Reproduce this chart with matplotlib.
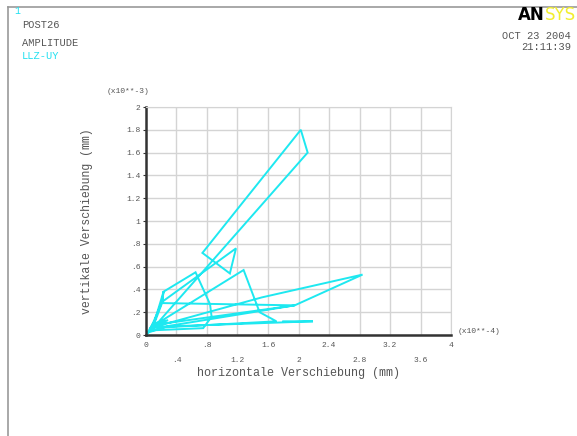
import matplotlib
matplotlib.use("Agg")
import matplotlib.pyplot as plt
from matplotlib.lines import Line2D

# displacement path (x in 1e-4 mm, y in 1e-3 mm)
ux = [0.00, 0.09, 0.23, 0.21, 0.23, 0.65, 0.84, 0.86, 0.75, 0.05, 0.21, 1.18, 1.10,
      0.74, 2.03, 2.12, 0.08, 0.21, 1.95, 0.12, 1.28, 1.49, 1.71, 0.05, 1.52, 2.84,
      1.95, 0.30, 0.02, 0.09, 0.29, 0.06, 2.19, 1.80]
uy = [0.00, 0.07, 0.38, 0.29, 0.38, 0.55, 0.27, 0.16, 0.06, 0.04, 0.29, 0.76, 0.54,
      0.72, 1.80, 1.60, 0.05, 0.28, 0.26, 0.09, 0.57, 0.20, 0.12, 0.06, 0.33, 0.53,
      0.26, 0.08, 0.02, 0.10, 0.13, 0.07, 0.12, 0.12]

xticks = [0, 0.4, 0.8, 1.2, 1.6, 2.0, 2.4, 2.8, 3.2, 3.6, 4.0]
xlabels = ["0", ".4", ".8", "1.2", "1.6", "2", "2.4", "2.8", "3.2", "3.6", "4"]
yticks = [0, 0.2, 0.4, 0.6, 0.8, 1.0, 1.2, 1.4, 1.6, 1.8, 2.0]
ylabels = ["0", ".2", ".4", ".6", ".8", "1", "1.2", "1.4", "1.6", "1.8", "2"]

mono = "Liberation Mono"
txt = "#555555"
grid = "#d4d4d4"

fig = plt.figure(figsize=(5.77, 4.36), dpi=100)
ax = fig.add_axes([146 / 577, 1 - 335 / 436, 305 / 577, 228 / 436])

ax.plot(ux, uy, color="#1ee8f0", lw=1.4, solid_joinstyle="miter")

ax.set_xlim(0, 4)
ax.set_ylim(0, 2)
ax.set_xticks(xticks)
ax.set_yticks(yticks)
ax.set_xticklabels([])
ax.set_yticklabels(ylabels, fontfamily=mono, fontsize=5.8, color=txt)
ax.grid(True, color=grid, lw=1)
ax.tick_params(axis="y", length=2, width=0.8, color="#333333", pad=2)
ax.tick_params(axis="x", length=0)

# staggered x tick labels in two rows
for i, (v, lab) in enumerate(zip(xticks, xlabels)):
    off = -0.048 if i % 2 == 0 else -0.11
    ax.text(v, off, lab, transform=ax.get_xaxis_transform(), ha="center", va="center",
            fontfamily=mono, fontsize=5.8, color=txt)

for s in ["top", "right"]:
    ax.spines[s].set_color(grid)
for s in ["left", "bottom"]:
    ax.spines[s].set_color("#333333")
    ax.spines[s].set_linewidth(1.8)

ax.text(-0.128, 1.07, "(x10**-3)", transform=ax.transAxes, fontfamily=mono, fontsize=5.8,
        color=txt, ha="left", va="center")
ax.text(1.022, 0.016, "(x10**-4)", transform=ax.transAxes, fontfamily=mono, fontsize=5.8,
        color=txt, ha="left", va="center")
ax.text(0.5, -0.165, "horizontale Verschiebung (mm)", transform=ax.transAxes, fontfamily=mono,
        fontsize=8.5, color=txt, ha="center", va="center")
ax.text(-0.195, 0.5, "vertikale Verschiebung (mm)", transform=ax.transAxes, fontfamily=mono,
        fontsize=8.3, color=txt, ha="center", va="center", rotation=90)

# header texts
fig.text(14 / 577, 1 - 11 / 436, "1", color="#22e0f0", fontfamily=mono, fontsize=7, va="center")
fig.text(22 / 577, 1 - 25 / 436, "POST26", color=txt, fontfamily=mono, fontsize=7.5, va="center")
fig.text(22 / 577, 1 - 43 / 436, "AMPLITUDE", color=txt, fontfamily=mono, fontsize=7.5, va="center")
fig.text(22 / 577, 1 - 56 / 436, "LLZ-UY", color="#22e0f0", fontfamily=mono, fontsize=7.5, va="center")
fig.text(571 / 577, 1 - 36 / 436, "OCT 23 2004", color=txt, fontfamily=mono, fontsize=7.5,
         ha="right", va="center")
fig.text(571 / 577, 1 - 47 / 436, "21:11:39", color=txt, fontfamily=mono, fontsize=7.5,
         ha="right", va="center")
fig.text(518 / 577, 1 - 15 / 436, "AN", color="black", fontfamily="DejaVu Sans",
         fontsize=12, fontweight="bold", va="center")
fig.text(545 / 577, 1 - 15 / 436, "SYS", color="#f2ee30", fontfamily="DejaVu Sans",
         fontsize=12, va="center")

# window frame
fig.add_artist(Line2D([8 / 577, 8 / 577], [0, 1 - 7 / 436], color="#999999", lw=1.2))
fig.add_artist(Line2D([8 / 577, 1], [1 - 7 / 436, 1 - 7 / 436], color="#999999", lw=1.2))

fig.savefig("out.png", dpi=100)
